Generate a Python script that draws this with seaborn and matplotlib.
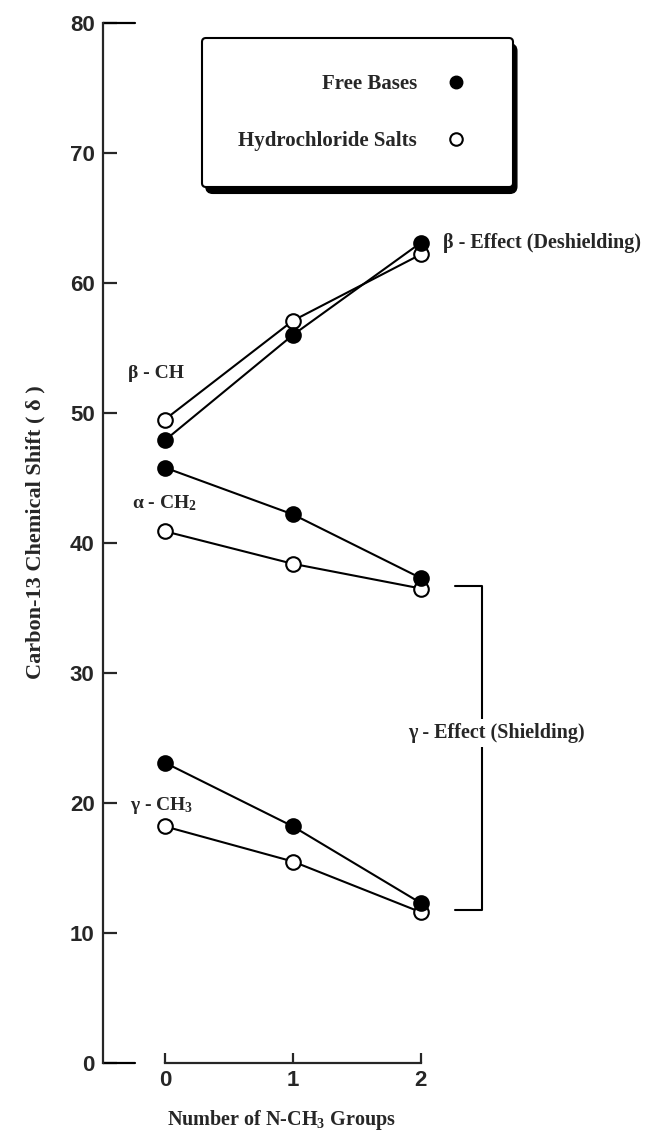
import pandas as pd
import matplotlib
matplotlib.use("Agg")
import matplotlib.pyplot as plt
from matplotlib.lines import Line2D
from matplotlib.patches import FancyBboxPatch
from matplotlib.transforms import IdentityTransform
import seaborn as sns

# number of N-CH3 groups
n_groups = [0, 1, 2]

# carbon-13 shifts
beta_free = [47.9, 56.0, 63.1]
beta_salt = [49.5, 57.1, 62.2]
alpha_free = [45.8, 42.2, 37.3]
alpha_salt = [40.9, 38.4, 36.5]
gamma_free = [23.1, 18.2, 12.3]
gamma_salt = [18.2, 15.5, 11.6]

y_ticks = [0, 10, 20, 30, 40, 50, 60, 70, 80]

rows = []
for carbon, free, salt in [("beta", beta_free, beta_salt),
                           ("alpha", alpha_free, alpha_salt),
                           ("gamma", gamma_free, gamma_salt)]:
    for n, f, s in zip(n_groups, free, salt):
        rows.append({"n": n, "shift": f, "carbon": carbon, "form": "Free Bases"})
        rows.append({"n": n, "shift": s, "carbon": carbon, "form": "Hydrochloride Salts"})
df = pd.DataFrame(rows)

sns.set_theme(style="ticks")
plt.rcParams['font.family'] = ['Liberation Serif', 'DejaVu Serif']
plt.rcParams['font.weight'] = 'bold'
plt.rcParams['mathtext.fontset'] = 'custom'
plt.rcParams['mathtext.rm'] = 'Liberation Serif:bold'
plt.rcParams['mathtext.it'] = 'Liberation Serif:bold'
plt.rcParams['mathtext.bf'] = 'Liberation Serif:bold'
plt.rcParams['mathtext.default'] = 'rm'

fig = plt.figure(figsize=(6.55, 11.32), dpi=100)
ax = fig.add_axes([103 / 655, 69 / 1132, 552 / 655, 1040 / 1132])

# salts first so filled circles sit on top
for form, face, z in [("Hydrochloride Salts", "white", 3), ("Free Bases", "black", 4)]:
    for carbon in ["beta", "alpha", "gamma"]:
        sub = df[(df["form"] == form) & (df["carbon"] == carbon)]
        sns.lineplot(data=sub, x="n", y="shift", ax=ax, color="black",
                     lw=1.5, marker="o", markersize=10.5, markerfacecolor=face,
                     markeredgecolor="black", markeredgewidth=1.5,
                     estimator=None, sort=False, zorder=z, legend=False)

ax.set_xlim(-0.484, 3.83)
ax.set_ylim(0, 80)
ax.set_xticks(n_groups)
ax.set_yticks(y_ticks)
sns.despine(ax=ax, trim=True)
for sp in ["left", "bottom"]:
    ax.spines[sp].set_linewidth(1.6)
ax.tick_params(axis="y", direction="in", length=10, width=1.6, pad=6,
               labelsize=16, labelfontfamily="Liberation Sans")
ax.tick_params(axis="x", direction="in", length=7, width=1.6, pad=5,
               labelsize=16, labelfontfamily="Liberation Sans")
for lbl in ax.get_xticklabels() + ax.get_yticklabels():
    lbl.set_fontweight("bold")

# longer stubs at 0 and 80
ax.axhline(0, xmin=0, xmax=0.058, color="black", lw=1.6, clip_on=False)
ax.axhline(80, xmin=0, xmax=0.058, color="black", lw=1.6, clip_on=False)

ax.set_xlabel("Number of N-CH$_3$ Groups", fontsize=14.5, fontweight="bold")
ax.xaxis.set_label_coords(0.324, -0.043)
ax.set_ylabel("Carbon-13 Chemical Shift ( δ )", fontsize=16, fontweight="bold")
ax.yaxis.set_label_coords(-0.105, 0.51)

# series labels
ax.text(-0.29, 53.0, "β - CH", fontsize=14, fontweight="bold", ha="left", va="center")
ax.text(-0.26, 43.1, "α - CH$_2$", fontsize=14, fontweight="bold", ha="left", va="center")
ax.text(-0.27, 19.8, "γ - CH$_3$", fontsize=14, fontweight="bold", ha="left", va="center")
ax.text(2.17, 63.1, "β - Effect (Deshielding)", fontsize=14.5, fontweight="bold",
        ha="left", va="center", clip_on=False)

# shielding bracket
ax.plot([2.27, 2.48, 2.48, 2.27], [36.7, 36.7, 11.8, 11.8], color="black", lw=1.5)
ax.text(2.59, 25.4, "γ - Effect (Shielding)", fontsize=14.5, fontweight="bold",
        ha="center", va="center", zorder=5,
        bbox=dict(facecolor="white", edgecolor="none", pad=3))

handles = [
    Line2D([], [], ls="none", marker="o", markersize=9, color="black",
           markerfacecolor="black", label="Free Bases"),
    Line2D([], [], ls="none", marker="o", markersize=9, color="black",
           markerfacecolor="white", markeredgewidth=1.5, label="Hydrochloride Salts"),
]
leg = ax.legend(handles=handles, loc="upper left", bbox_to_anchor=(0.179, 0.9856),
                markerfirst=False, fontsize=15, frameon=True, fancybox=True,
                shadow=False, borderpad=1.75, labelspacing=1.75, handlelength=2.0,
                handletextpad=0.85, borderaxespad=0)
leg.get_frame().set_edgecolor("black")
leg.get_frame().set_linewidth(1.5)
leg.get_frame().set_alpha(1)
leg.set_zorder(6)
for t in leg.get_texts():
    t.set_fontweight("bold")

# heavy drop shadow under the legend box
fig.canvas.draw()
bb = leg.get_window_extent()
shadow = FancyBboxPatch((bb.x0 + 4, bb.y0 - 6), bb.width, bb.height,
                        boxstyle="round,pad=0,rounding_size=7",
                        transform=IdentityTransform(), facecolor="black",
                        edgecolor="black", zorder=5.5, clip_on=False)
ax.add_artist(shadow)

fig.savefig("out.png", dpi=100)
